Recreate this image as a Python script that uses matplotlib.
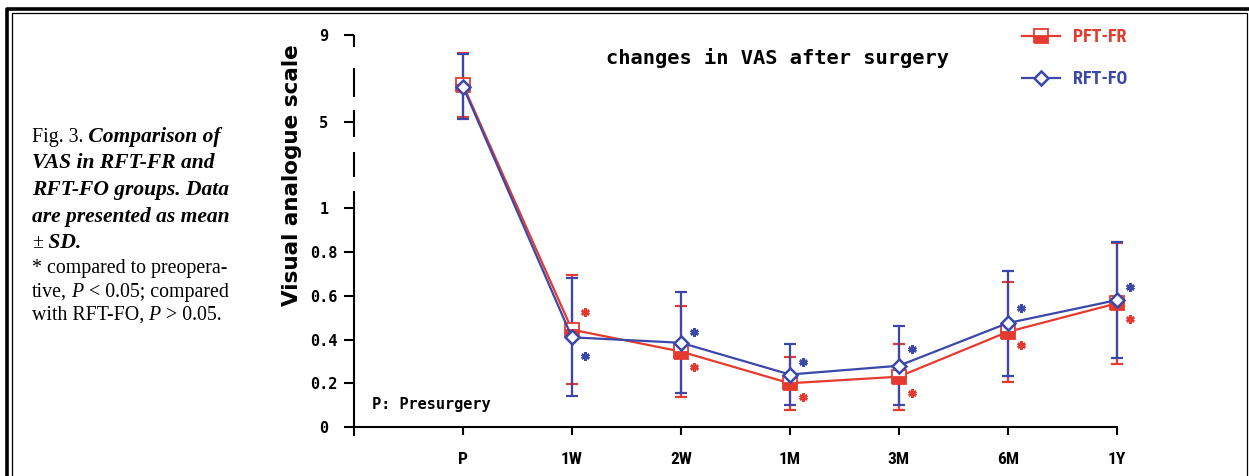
import numpy as np
import matplotlib
matplotlib.use('Agg')
import matplotlib.pyplot as plt
from matplotlib.lines import Line2D
from matplotlib import font_manager

W, H = 1249, 476

times = ['P', '1W', '2W', '1M', '3M', '6M', '1Y']
fr_mean = [6.70, 0.445, 0.345, 0.20, 0.23, 0.435, 0.565]
fr_sd = [1.47, 0.25, 0.21, 0.12, 0.15, 0.23, 0.275]
fo_mean = [6.62, 0.41, 0.385, 0.24, 0.28, 0.475, 0.58]
fo_sd = [1.50, 0.27, 0.23, 0.14, 0.18, 0.24, 0.265]
# where the significance asterisks sit (no asterisk at P)
fr_star = [np.nan, 0.525, 0.274, 0.137, 0.155, 0.374, 0.494]
fo_star = [np.nan, 0.325, 0.434, 0.297, 0.356, 0.543, 0.640]
yticks = [0, 0.2, 0.4, 0.6, 0.8, 1, 5, 9]
ytick_labels = ['0', '0.2', '0.4', '0.6', '0.8', '1', '5', '9']

RED = '#e53a2f'
BLUE = '#3b48a8'

names = {f.name for f in font_manager.fontManager.ttflist}
narrow = 'DejaVu Sans'
for cand in ['Liberation Sans Narrow', 'DejaVu Sans Condensed', 'Roboto Condensed']:
    if cand in names:
        narrow = cand
        break
MONO = 'DejaVu Sans Mono'
SERIF = 'Liberation Serif'

# broken y axis: 0-1 linear, above 1 compressed
K = 0.099
def fwd(y):
    y = np.asarray(y, float)
    return np.where(y <= 1, y, 1 + (y - 1) * K)
def inv(y):
    y = np.asarray(y, float)
    return np.where(y <= 1, y, 1 + (y - 1) / K)

fig = plt.figure(figsize=(W / 100, H / 100), dpi=100)
ax = fig.add_axes([354 / W, 1 - 427 / H, 762.7 / W, 392 / H])
ax.set_yscale('function', functions=(fwd, inv))

x = np.arange(len(times))
eb1 = ax.errorbar(x, fr_mean, yerr=fr_sd, fmt='none', ecolor=RED, elinewidth=1.6,
                  capsize=4.5, capthick=1.6, zorder=2)
eb2 = ax.errorbar(x, fo_mean, yerr=fo_sd, fmt='none', ecolor=BLUE, elinewidth=1.6,
                  capsize=4.5, capthick=1.6, zorder=3)
for eb in (eb1, eb2):
    for art in eb.get_children():
        art.set_clip_on(False)
l_fr, = ax.plot(x, fr_mean, color=RED, lw=1.6, marker='s', ms=10, mew=1.3,
                mec=RED, mfc=RED, mfcalt='white', fillstyle='bottom', zorder=4,
                clip_on=False)
l_fo, = ax.plot(x, fo_mean, color=BLUE, lw=1.6, marker='D', ms=7.5, mew=1.8,
                mec=BLUE, mfc='white', zorder=5, clip_on=False)
ax.plot(x + 0.12, fr_star, ls='none', marker=(6, 2, 0), ms=6, mew=1.8, color=RED,
        clip_on=False)
ax.plot(x + 0.12, fo_star, ls='none', marker=(6, 2, 0), ms=6, mew=1.8, color=BLUE,
        clip_on=False)

ax.set_xlim(-1.0, 6.0)
ax.set_ylim(0, 9)
ax.set_xticks(x)
ax.set_xticklabels(times, fontfamily=narrow, fontweight='bold', fontsize=12.5)
ax.set_yticks(yticks)
ax.set_yticklabels(ytick_labels, fontfamily=MONO, fontweight='bold', fontsize=11)
for lab in ax.get_yticklabels():
    lab.set_horizontalalignment('center')
ax.tick_params(axis='x', direction='out', length=6, width=1.5, pad=12)
ax.tick_params(axis='y', direction='out', length=7.2, width=1.5, pad=14.5)
ax.yaxis.set_minor_locator(matplotlib.ticker.NullLocator())

for s in ['top', 'right']:
    ax.spines[s].set_visible(False)
ax.spines['left'].set_linewidth(1.5)
ax.spines['bottom'].set_linewidth(1.5)
ax.spines['left'].set_bounds(-0.037, 1.77)
ax.spines['bottom'].set_bounds(-1.0, 6.0)
# dashed upper part of the y axis
for a, b in [(2.46, 3.61), (4.31, 5.54), (6.15, 7.47), (8.46, 9.0)]:
    ax.plot([0, 0], [a, b], color='black', lw=1.5, transform=ax.get_yaxis_transform(),
            clip_on=False, solid_capstyle='butt')

leg = ax.legend(handles=[l_fr, l_fo], labels=['PFT-FR', 'RFT-FO'], loc='upper left',
                bbox_to_anchor=(1022 / W, 1 - 28 / H), bbox_transform=fig.transFigure,
                frameon=False, handlelength=2.1, handletextpad=0.7, labelspacing=1.35,
                borderpad=0, borderaxespad=0, labelcolor='linecolor',
                prop={'family': narrow, 'weight': 'bold', 'size': 13})

def px(xp, yp):
    return xp / W, 1 - yp / H

fig.text(*px(778, 58), 'changes in VAS after surgery', ha='center', va='center',
         fontfamily=MONO, fontweight='bold', fontsize=14.7)
fig.text(*px(292, 175), 'Visual analogue scale', ha='center', va='center', rotation=90,
         fontfamily='DejaVu Sans', fontweight='bold', fontsize=15.5)
fig.text(*px(372, 405), 'P: Presurgery', ha='left', va='center',
         fontfamily=MONO, fontweight='bold', fontsize=11)

# caption at the left
renderer = fig.canvas.get_renderer()
REG = dict(fontfamily=SERIF, fontsize=14.3)
BI = dict(fontfamily=SERIF, fontsize=15.5, fontweight='bold', fontstyle='italic')
IT = dict(fontfamily=SERIF, fontsize=14.3, fontstyle='italic')

def runs(xp, yp, parts):
    for s, kw in parts:
        t = fig.text(*px(xp, yp), s, ha='left', va='baseline', **kw)
        xp += t.get_window_extent(renderer).width

runs(32, 142, [('Fig. 3.', REG), (' Comparison of', BI)])
runs(32, 168, [('VAS in RFT-FR and', BI)])
runs(32, 195, [('RFT-FO groups. Data', BI)])
runs(32, 222, [('are presented as mean', BI)])
runs(32, 248, [('\u00b1', REG), (' SD.', BI)])
runs(32, 273, [('* compared to preopera-', REG)])
runs(32, 297, [('tive,', REG), (' P', IT), (' < 0.05; compared', REG)])
runs(32, 320, [('with RFT-FO,', REG), (' P', IT), (' > 0.05.', REG)])

# double frame round the figure
def fline(xs, ys, lw):
    fig.add_artist(Line2D([v / W for v in xs], [1 - v / H for v in ys], color='black',
                          lw=lw, transform=fig.transFigure, solid_capstyle='butt'))

fline([6.5, 6.5, 1252], [480, 8.5, 8.5], 2.6)
fline([11.5, 11.5, 1246.5, 1246.5], [480, 12.5, 12.5, 480], 0.9)

fig.savefig('out.png', dpi=100)
